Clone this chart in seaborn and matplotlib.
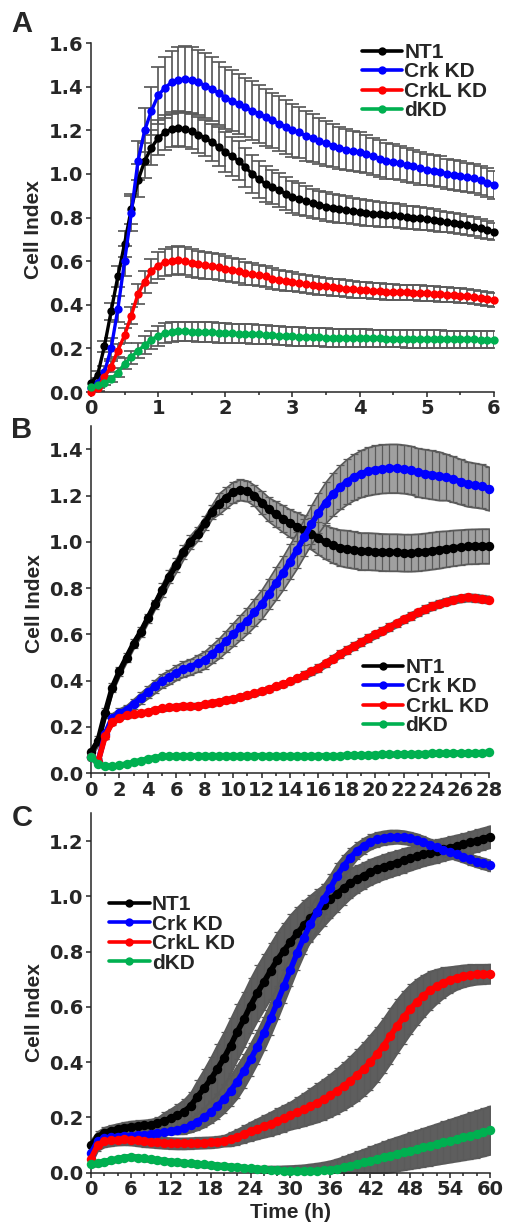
#!/usr/bin/env python3
"""Cell Index time courses (xCELLigence) for NT1 / Crk KD / CrkL KD / dKD."""

import matplotlib.pyplot as plt
import numpy as np
import pandas as pd
import seaborn as sns
from matplotlib.lines import Line2D
from matplotlib.ticker import FormatStrFormatter, MultipleLocator

GROUPS = ["NT1", "Crk KD", "CrkL KD", "dKD"]
COLORS = {"NT1": "#000000", "Crk KD": "#0000FF", "CrkL KD": "#FF0000", "dKD": "#00B050"}

# ---- panel A: 0-6 h, every 0.1 h ----
A_TIME = np.round(np.arange(61) * 0.1, 1)
A_NT1 = [0.04, 0.08, 0.21, 0.37, 0.53, 0.68, 0.84, 0.97, 1.06, 1.12,
         1.165, 1.19, 1.205, 1.21, 1.205, 1.195, 1.18, 1.165, 1.145, 1.125,
         1.10, 1.08, 1.06, 1.03, 1.00, 0.975, 0.955, 0.94, 0.925, 0.91,
         0.895, 0.885, 0.875, 0.865, 0.858, 0.85, 0.845, 0.84, 0.835, 0.83,
         0.826, 0.822, 0.818, 0.815, 0.812, 0.81, 0.806, 0.802, 0.80, 0.796,
         0.792, 0.788, 0.784, 0.78, 0.775, 0.77, 0.764, 0.758, 0.75, 0.742, 0.735]
A_CRK = [0.02, 0.04, 0.09, 0.20, 0.38, 0.60, 0.82, 1.06, 1.20, 1.29,
         1.36, 1.395, 1.42, 1.43, 1.435, 1.43, 1.42, 1.405, 1.39, 1.37,
         1.35, 1.335, 1.32, 1.305, 1.29, 1.275, 1.26, 1.245, 1.23, 1.215,
         1.20, 1.19, 1.175, 1.165, 1.15, 1.14, 1.13, 1.12, 1.11, 1.105,
         1.10, 1.09, 1.08, 1.07, 1.06, 1.055, 1.05, 1.04, 1.035, 1.025,
         1.02, 1.015, 1.01, 1.00, 0.995, 0.99, 0.985, 0.98, 0.97, 0.96, 0.95]
A_CRKL = [0.0, 0.02, 0.07, 0.116, 0.19, 0.26, 0.35, 0.45, 0.506, 0.555,
          0.58, 0.595, 0.60, 0.605, 0.60, 0.59, 0.585, 0.582, 0.578, 0.572,
          0.566, 0.56, 0.555, 0.545, 0.54, 0.535, 0.53, 0.52, 0.515, 0.51,
          0.505, 0.50, 0.495, 0.49, 0.487, 0.484, 0.48, 0.477, 0.474, 0.471,
          0.468, 0.466, 0.464, 0.462, 0.46, 0.459, 0.458, 0.457, 0.455, 0.454,
          0.453, 0.451, 0.449, 0.447, 0.445, 0.442, 0.44, 0.436, 0.432, 0.427, 0.42]
A_DKD = [0.022, 0.03, 0.04, 0.06, 0.088, 0.13, 0.16, 0.19, 0.215, 0.24,
         0.258, 0.27, 0.275, 0.278, 0.278, 0.277, 0.276, 0.275, 0.274, 0.272,
         0.27, 0.269, 0.268, 0.267, 0.266, 0.265, 0.263, 0.261, 0.259, 0.257,
         0.255, 0.254, 0.253, 0.252, 0.251, 0.25, 0.249, 0.248, 0.248, 0.247,
         0.247, 0.246, 0.246, 0.246, 0.245, 0.245, 0.245, 0.244, 0.244, 0.244,
         0.243, 0.243, 0.243, 0.242, 0.242, 0.242, 0.241, 0.241, 0.24, 0.24, 0.24]
A_NT1_ERR = [0.01, 0.015, 0.025, 0.04, 0.05, 0.06, 0.07, 0.075, 0.08, 0.08,
             0.08, 0.08, 0.08, 0.08, 0.08, 0.08, 0.082, 0.084, 0.086, 0.088,
             0.09, 0.09, 0.09, 0.088, 0.086, 0.084, 0.082, 0.08, 0.078, 0.076,
             0.074, 0.072, 0.07, 0.068, 0.066, 0.065, 0.064, 0.063, 0.062, 0.061,
             0.06, 0.059, 0.058, 0.057, 0.056, 0.055, 0.054, 0.053, 0.052, 0.051,
             0.05, 0.049, 0.048, 0.047, 0.046, 0.045, 0.044, 0.043, 0.042, 0.041, 0.04]
A_CRK_ERR = [0.01, 0.02, 0.03, 0.05, 0.06, 0.07, 0.08, 0.09, 0.10, 0.11,
             0.13, 0.14, 0.145, 0.15, 0.15, 0.15, 0.15, 0.148, 0.146, 0.144,
             0.142, 0.14, 0.138, 0.136, 0.134, 0.132, 0.13, 0.128, 0.126, 0.124,
             0.122, 0.118, 0.114, 0.11, 0.106, 0.102, 0.099, 0.096, 0.094, 0.092,
             0.09, 0.088, 0.086, 0.084, 0.082, 0.08, 0.078, 0.077, 0.076, 0.075,
             0.073, 0.072, 0.071, 0.07, 0.069, 0.068, 0.067, 0.066, 0.065, 0.065, 0.065]
A_CRKL_ERR = [0.01, 0.015, 0.02, 0.025, 0.03, 0.035, 0.04, 0.045, 0.05, 0.055,
              0.06, 0.062, 0.064, 0.065, 0.065, 0.064, 0.063, 0.062, 0.061, 0.06,
              0.058, 0.056, 0.054, 0.052, 0.05, 0.049, 0.048, 0.047, 0.046, 0.045,
              0.044, 0.043, 0.042, 0.041, 0.04, 0.04, 0.039, 0.039, 0.038, 0.038,
              0.037, 0.037, 0.037, 0.036, 0.036, 0.036, 0.035, 0.035, 0.035, 0.035,
              0.034, 0.034, 0.034, 0.034, 0.033, 0.033, 0.033, 0.033, 0.032, 0.032, 0.032]
A_DKD_ERR = [0.005, 0.008, 0.01, 0.015, 0.02, 0.025, 0.03, 0.035, 0.04, 0.042,
             0.045, 0.045, 0.045, 0.045, 0.045, 0.045, 0.045, 0.045, 0.045, 0.045,
             0.045, 0.045, 0.045, 0.044, 0.044, 0.044, 0.044, 0.043, 0.043, 0.043,
             0.043, 0.042, 0.042, 0.042, 0.042, 0.042, 0.041, 0.041, 0.041, 0.041,
             0.041, 0.041, 0.04, 0.04, 0.04, 0.04, 0.04, 0.04, 0.04, 0.04,
             0.04, 0.04, 0.04, 0.04, 0.04, 0.04, 0.04, 0.04, 0.04, 0.04, 0.04]

# ---- panel B: 0-28 h, every 0.5 h ----
B_TIME = np.arange(57) * 0.5
B_NT1 = [0.09, 0.14, 0.26, 0.37, 0.44, 0.50, 0.56, 0.61, 0.67, 0.73,
         0.79, 0.85, 0.90, 0.955, 1.00, 1.035, 1.08, 1.13, 1.165, 1.19,
         1.215, 1.225, 1.22, 1.20, 1.17, 1.14, 1.12, 1.10, 1.08, 1.065,
         1.05, 1.035, 1.015, 0.998, 0.985, 0.975, 0.97, 0.965, 0.96, 0.96,
         0.958, 0.956, 0.955, 0.955, 0.953, 0.953, 0.955, 0.958, 0.962, 0.966,
         0.97, 0.974, 0.977, 0.98, 0.981, 0.982, 0.982]
B_CRK = [0.07, 0.05, 0.17, 0.24, 0.26, 0.275, 0.30, 0.325, 0.35, 0.375,
         0.40, 0.415, 0.435, 0.45, 0.46, 0.475, 0.49, 0.515, 0.54, 0.57,
         0.60, 0.63, 0.66, 0.695, 0.73, 0.775, 0.82, 0.865, 0.915, 0.965,
         1.02, 1.075, 1.125, 1.17, 1.205, 1.235, 1.26, 1.28, 1.295, 1.305,
         1.312, 1.316, 1.318, 1.318, 1.315, 1.31, 1.30, 1.295, 1.29, 1.285,
         1.28, 1.27, 1.26, 1.25, 1.245, 1.24, 1.23]
B_CRKL = [0.07, 0.05, 0.16, 0.22, 0.24, 0.25, 0.255, 0.26, 0.265, 0.275,
          0.28, 0.285, 0.288, 0.29, 0.29, 0.292, 0.298, 0.303, 0.31, 0.316,
          0.322, 0.33, 0.337, 0.345, 0.355, 0.365, 0.375, 0.385, 0.397, 0.41,
          0.425, 0.44, 0.455, 0.475, 0.495, 0.515, 0.533, 0.55, 0.567, 0.584,
          0.60, 0.616, 0.632, 0.648, 0.665, 0.68, 0.695, 0.71, 0.722, 0.733,
          0.742, 0.75, 0.756, 0.76, 0.758, 0.754, 0.75]
B_DKD = [0.07, 0.04, 0.03, 0.03, 0.035, 0.04, 0.048, 0.055, 0.062, 0.068,
         0.073, 0.075, 0.076, 0.076, 0.076, 0.076, 0.076, 0.076, 0.076, 0.076,
         0.076, 0.076, 0.076, 0.076, 0.076, 0.076, 0.076, 0.076, 0.076, 0.076,
         0.076, 0.076, 0.076, 0.076, 0.076, 0.076, 0.078, 0.079, 0.08, 0.08,
         0.081, 0.082, 0.082, 0.083, 0.084, 0.084, 0.085, 0.085, 0.086, 0.086,
         0.087, 0.087, 0.088, 0.088, 0.089, 0.089, 0.09]
B_NT1_ERR = [0.02] * 10 + [0.03] * 8 + [0.045] * 6 + \
    [0.05, 0.052, 0.055, 0.058, 0.06, 0.062, 0.065, 0.068, 0.07, 0.073, 0.076, 0.078] + \
    [0.08] * 14 + [0.078, 0.077, 0.076, 0.075, 0.075, 0.075, 0.075]
B_CRK_ERR = [0.01, 0.015, 0.02, 0.02, 0.02, 0.02, 0.022, 0.024, 0.026, 0.028,
             0.03, 0.031, 0.032, 0.033, 0.034, 0.036, 0.038, 0.04,
             0.043, 0.046, 0.05, 0.053, 0.056, 0.06, 0.063, 0.066,
             0.07, 0.072, 0.075, 0.078, 0.08, 0.083, 0.086, 0.089,
             0.092, 0.095, 0.098, 0.1, 0.102, 0.104] + [0.105] * 10 + \
    [0.1, 0.099, 0.098, 0.097, 0.096, 0.095, 0.094]
B_CRKL_ERR = [0.01] * 10 + [0.012] * 20 + [0.016] * 27
B_DKD_ERR = [0.006] * 36 + [0.009] * 21

# ---- panel C: 0-60 h, every 1 h ----
C_TIME = np.arange(61)
C_NT1 = [0.10, 0.13, 0.145, 0.152, 0.158, 0.163, 0.167, 0.169, 0.171, 0.174,
         0.18, 0.188, 0.197, 0.208, 0.221, 0.242, 0.275, 0.305, 0.338, 0.375,
         0.415, 0.46, 0.51, 0.555, 0.605, 0.65, 0.69, 0.73, 0.77, 0.803,
         0.835, 0.866, 0.895, 0.92, 0.945, 0.968, 0.99, 1.01, 1.03, 1.048,
         1.062, 1.075, 1.088, 1.098, 1.107, 1.115, 1.122, 1.13, 1.137, 1.145,
         1.152, 1.158, 1.164, 1.17, 1.176, 1.182, 1.188, 1.195, 1.202, 1.209, 1.216]
C_CRK = [0.07, 0.115, 0.125, 0.128, 0.13, 0.132, 0.134, 0.135, 0.137, 0.14,
         0.143, 0.146, 0.15, 0.155, 0.161, 0.172, 0.185, 0.2, 0.219, 0.241,
         0.267, 0.297, 0.33, 0.368, 0.41, 0.455, 0.505, 0.558, 0.615, 0.675,
         0.735, 0.795, 0.85, 0.9, 0.945, 0.99, 1.03, 1.075, 1.11, 1.14,
         1.165, 1.183, 1.197, 1.206, 1.212, 1.215, 1.216, 1.214, 1.21, 1.204,
         1.196, 1.186, 1.177, 1.168, 1.16, 1.152, 1.143, 1.134, 1.126, 1.119, 1.112]
C_CRKL = [0.05, 0.10, 0.113, 0.117, 0.12, 0.121, 0.12, 0.117, 0.114, 0.112,
          0.11, 0.108, 0.107, 0.106, 0.106, 0.107, 0.108, 0.109, 0.11, 0.112,
          0.116, 0.122, 0.13, 0.14, 0.15, 0.159, 0.168, 0.177, 0.187, 0.197,
          0.207, 0.218, 0.229, 0.241, 0.253, 0.266, 0.28, 0.296, 0.313, 0.332,
          0.352, 0.375, 0.40, 0.428, 0.46, 0.495, 0.53, 0.562, 0.592, 0.618,
          0.64, 0.66, 0.675, 0.688, 0.698, 0.706, 0.712, 0.716, 0.718, 0.719, 0.72]
C_DKD = [0.03, 0.035, 0.04, 0.045, 0.05, 0.055, 0.057, 0.055, 0.052, 0.049,
         0.046, 0.043, 0.04, 0.038, 0.036, 0.034, 0.032, 0.03, 0.028, 0.026,
         0.024, 0.022, 0.02, 0.018, 0.016, 0.014, 0.012, 0.01, 0.008, 0.007,
         0.006, 0.005, 0.005, 0.006, 0.007, 0.009, 0.011, 0.015, 0.02, 0.026,
         0.032, 0.038, 0.044, 0.05, 0.056, 0.062, 0.068, 0.074, 0.08, 0.086,
         0.092, 0.098, 0.104, 0.11, 0.116, 0.122, 0.128, 0.134, 0.14, 0.147, 0.154]
C_NT1_ERR = [0.02] * 11 + [0.03, 0.035, 0.04, 0.045, 0.05, 0.06, 0.07, 0.08, 0.09, 0.095] + \
    [0.1] * 10 + [0.095, 0.09, 0.085, 0.08, 0.075, 0.07, 0.065, 0.06, 0.055, 0.05] + \
    [0.048, 0.047, 0.046, 0.045, 0.045, 0.044, 0.044, 0.043, 0.043, 0.042,
     0.042, 0.042, 0.041, 0.041, 0.041, 0.04, 0.04, 0.04, 0.04, 0.04]
C_CRK_ERR = [0.01] * 13 + [0.015, 0.02, 0.025, 0.03, 0.035, 0.04, 0.045, 0.05, 0.055] + \
    [0.06] * 13 + [0.055, 0.05, 0.045, 0.04, 0.035, 0.03] + \
    [0.028, 0.027, 0.026, 0.025, 0.025, 0.024, 0.024, 0.023, 0.023, 0.022,
     0.022, 0.022, 0.021, 0.021, 0.021, 0.02, 0.02, 0.02, 0.02, 0.02]
C_CRKL_ERR = [0.02] * 21 + \
    [0.025, 0.028, 0.031, 0.034, 0.037, 0.04, 0.043, 0.046, 0.048, 0.05,
     0.055, 0.06, 0.065, 0.07, 0.074, 0.078, 0.082, 0.086, 0.09, 0.094,
     0.097, 0.1, 0.1, 0.1, 0.1, 0.098, 0.095, 0.09,
     0.084, 0.077, 0.07, 0.062, 0.055, 0.048,
     0.043, 0.04, 0.038, 0.036, 0.035, 0.035]
C_DKD_ERR = [0.01] * 26 + \
    [0.012, 0.014, 0.016, 0.018, 0.02, 0.022, 0.024, 0.026, 0.028, 0.03,
     0.033, 0.036, 0.039, 0.042, 0.045, 0.048, 0.051, 0.054, 0.057, 0.06,
     0.062, 0.064, 0.066, 0.068, 0.07,
     0.072, 0.074, 0.076, 0.078, 0.08, 0.082, 0.084, 0.086, 0.087, 0.088]

ERR_GRAY = "#5a5a5a"


def build_frame(time, means, errs) -> pd.DataFrame:
    """Long table: one row per time point and group."""
    parts = []
    for group, mean, err in zip(GROUPS, means, errs):
        parts.append(pd.DataFrame({"time": time, "ci": mean, "sd": err, "group": group}))
    return pd.concat(parts, ignore_index=True)


def draw_panel(ax, df, band_color, capsize, ms, lw, elw):
    for group in GROUPS:
        sub = df[df["group"] == group]
        if band_color is not None:
            ax.fill_between(sub["time"], sub["ci"] - sub["sd"], sub["ci"] + sub["sd"],
                            facecolor=band_color, edgecolor=ERR_GRAY, linewidth=1.2, zorder=1)
        ax.errorbar(sub["time"], sub["ci"], yerr=sub["sd"], fmt="none", ecolor=ERR_GRAY,
                    elinewidth=elw, capsize=capsize, capthick=elw, zorder=2)
    sns.lineplot(data=df, x="time", y="ci", hue="group", hue_order=GROUPS, palette=COLORS,
                 marker="o", markersize=ms, markeredgewidth=0, linewidth=lw,
                 errorbar=None, legend=False, ax=ax, zorder=3, clip_on=False)


def style_axis(ax, xmax, xmajor, xminor, ymax, label_y):
    sns.despine(ax=ax)
    ax.set_xlim(0, xmax)
    ax.set_ylim(0, ymax)
    ax.xaxis.set_major_locator(MultipleLocator(xmajor))
    ax.xaxis.set_minor_locator(MultipleLocator(xminor))
    ax.yaxis.set_major_locator(MultipleLocator(0.2))
    ax.yaxis.set_major_formatter(FormatStrFormatter("%.1f"))
    for side in ("left", "bottom"):
        ax.spines[side].set_linewidth(1.1)
    ax.tick_params(which="major", direction="out", length=3.8, width=1.1,
                   labelsize=14, pad=1.5)
    ax.tick_params(which="minor", direction="out", length=2.3, width=1.1)
    ax.set_xlabel("")
    ax.set_ylabel("Cell Index", fontsize=15, fontfamily="Liberation Sans",
                  fontweight="bold")
    ax.yaxis.set_label_coords(-0.118, label_y)


def add_legend(ax, anchor):
    handles = [Line2D([0], [0], color=COLORS[g], lw=2.6, marker="o", ms=6,
                      markeredgewidth=0) for g in GROUPS]
    ax.legend(handles, GROUPS, loc="upper left", bbox_to_anchor=anchor, frameon=False,
              borderpad=0, borderaxespad=0, labelspacing=0.02, handlelength=1.95,
              handletextpad=0.1, numpoints=1,
              prop={"family": "Liberation Sans", "weight": "bold", "size": 15})


def main() -> None:
    sns.set_style("ticks")
    plt.rcParams["font.family"] = ["DejaVu Sans"]
    plt.rcParams["font.weight"] = "bold"

    fig = plt.figure(figsize=(5.06, 12.27), dpi=100)
    ax_a = fig.add_axes([0.1798, 0.6805, 0.7964, 0.2844])
    ax_b = fig.add_axes([0.1798, 0.3698, 0.7866, 0.2829])
    ax_c = fig.add_axes([0.1798, 0.04425, 0.7885, 0.2928])

    df_a = build_frame(A_TIME, [A_NT1, A_CRK, A_CRKL, A_DKD],
                       [A_NT1_ERR, A_CRK_ERR, A_CRKL_ERR, A_DKD_ERR])
    df_b = build_frame(B_TIME, [B_NT1, B_CRK, B_CRKL, B_DKD],
                       [B_NT1_ERR, B_CRK_ERR, B_CRKL_ERR, B_DKD_ERR])
    df_c = build_frame(C_TIME, [C_NT1, C_CRK, C_CRKL, C_DKD],
                       [C_NT1_ERR, C_CRK_ERR, C_CRKL_ERR, C_DKD_ERR])

    draw_panel(ax_a, df_a, None, capsize=5.0, ms=6.0, lw=2.4, elw=1.25)
    draw_panel(ax_b, df_b, "#a0a0a0", capsize=3.0, ms=6.8, lw=4.0, elw=0.9)
    draw_panel(ax_c, df_c, "#5e5e5e", capsize=2.5, ms=6.8, lw=4.0, elw=0.9)

    style_axis(ax_a, 6, 1, 0.5, 1.6, 0.467)
    style_axis(ax_b, 28, 2, 1, 1.5, 0.49)
    style_axis(ax_c, 60, 6, 2, 1.3, 0.447)
    ax_c.set_xlabel("Time (h)", fontsize=15, fontfamily="Liberation Sans",
                    fontweight="bold", labelpad=2.5)

    add_legend(ax_a, (0.672, 1.0))
    add_legend(ax_b, (0.683, 0.332))
    add_legend(ax_c, (0.045, 0.772))

    for letter, ypix in (("A", 24), ("B", 430), ("C", 818)):
        fig.text(22 / 506, 1 - ypix / 1227, letter, fontsize=21, fontweight="bold",
                 fontfamily="Liberation Sans", ha="center", va="center")

    fig.savefig("out.png", dpi=100)
    plt.close(fig)


if __name__ == "__main__":
    main()
